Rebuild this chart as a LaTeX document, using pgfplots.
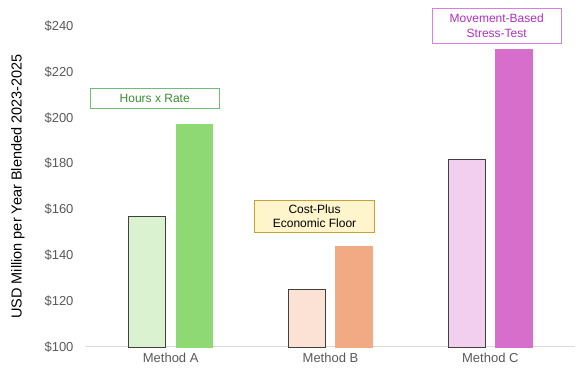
\documentclass[border=0pt]{standalone}
\usepackage{fontspec}
\setmainfont{Liberation Sans}
\usepackage{pgfplots}
\pgfplotsset{compat=1.18}
\definecolor{Alight}{HTML}{DAF2D0}
\definecolor{Adark}{HTML}{8ED973}
\definecolor{Blight}{HTML}{FBE2D5}
\definecolor{Bdark}{HTML}{F2AA84}
\definecolor{Clight}{HTML}{F2CEEF}
\definecolor{Cdark}{HTML}{D86ECC}
\definecolor{ticktext}{HTML}{595959}
\definecolor{axisgray}{HTML}{D9D9D9}
\definecolor{barborder}{HTML}{404040}
\begin{document}
\begin{tikzpicture}
\begin{axis}[
  scale only axis,
  width=489pt, height=321pt,
  xmin=-0.53, xmax=2.53,
  ymin=100, ymax=240,
  ytick={100,120,...,240},
  yticklabel={\$\pgfmathprintnumber{\tick}},
  /pgf/number format/assume math mode=true,
  xtick={0,1,2},
  xticklabels={Method A,Method B,Method C},
  axis y line*=left,
  y axis line style={draw=none},
  axis x line*=bottom,
  x axis line style={axisgray, line width=1pt, -},
  major tick length=0pt,
  tick label style={font=\fontsize{13}{15}\selectfont, text=ticktext},
  xticklabel style={yshift=-3pt},
  yticklabel style={xshift=-9pt},
  ylabel={USD Million per Year Blended 2023-2025},
  ylabel style={font=\fontsize{14.5}{16}\selectfont, text=black, yshift=13pt},
  clip=false,
  bar width=0.23,
  ybar,
  bar shift=0pt,
]
% light bars (earlier)
\addplot[fill=Alight, draw=barborder, line width=0.7pt, bar shift=-0.147] coordinates {(0,157)};
\addplot[fill=Blight, draw=barborder, line width=0.7pt, bar shift=-0.147] coordinates {(1,125)};
\addplot[fill=Clight, draw=barborder, line width=0.7pt, bar shift=-0.147] coordinates {(2,182)};
% dark bars
\addplot[fill=Adark, draw=Adark, bar shift=0.147] coordinates {(0,197)};
\addplot[fill=Bdark, draw=Bdark, bar shift=0.147] coordinates {(1,144)};
\addplot[fill=Cdark, draw=Cdark, bar shift=0.147] coordinates {(2,230)};
% annotations
\node[draw={rgb,255:red,110;green,190;blue,120}, line width=0.8pt, fill=white, text={rgb,255:red,60;green,140;blue,50},
  minimum width=129pt, minimum height=20pt, font=\fontsize{12}{14.5}\selectfont]
  at (axis cs:-0.10,208.6) {Hours x Rate};
\node[draw={rgb,255:red,200;green,160;blue,50}, line width=0.8pt, fill={rgb,255:red,255;green,245;blue,204}, text=black,
  minimum width=120pt, minimum height=32pt, align=center, font=\fontsize{12}{14.5}\selectfont]
  at (axis cs:0.90,157) {Cost-Plus\\Economic Floor};
\node[draw={rgb,255:red,214;green,128;blue,224}, line width=0.8pt, fill=white, text={rgb,255:red,176;green,48;blue,192},
  minimum width=129pt, minimum height=35pt, align=center, font=\fontsize{12}{14.5}\selectfont]
  at (axis cs:2.04,240.2) {Movement-Based\\Stress-Test};
\path (rel axis cs:0,0) ++(-86pt,-25pt) coordinate (bbsw);
\path (rel axis cs:1,1) ++(4pt,26pt) coordinate (bbne);
\end{axis}
\useasboundingbox (bbsw) rectangle (bbne);
\end{tikzpicture}
\end{document}
